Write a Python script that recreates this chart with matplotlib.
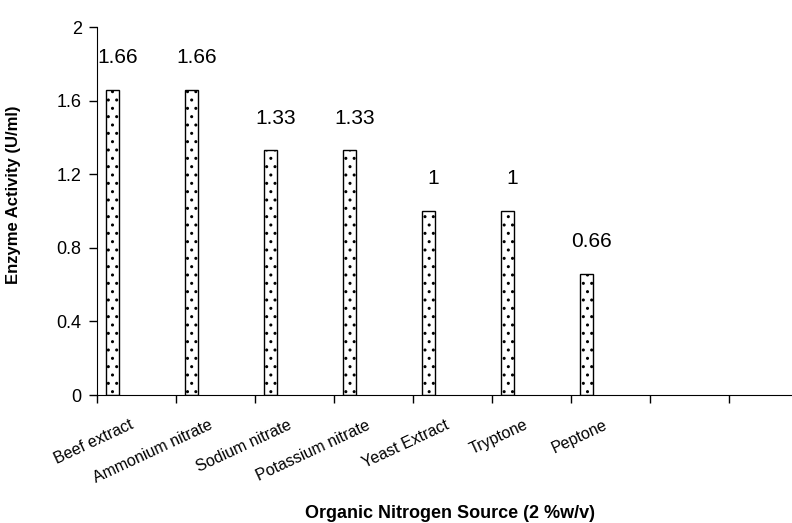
import matplotlib.pyplot as plt
import numpy as np

plt.rcParams["font.family"] = ["Liberation Sans", "DejaVu Sans"]
plt.rcParams["hatch.linewidth"] = 1.0

# data
aCategory = ['Beef extract', 'Ammonium nitrate', 'Sodium nitrate', 'Potassium nitrate',
             'Yeast Extract', 'Tryptone', 'Peptone']
aActivity = [1.66, 1.66, 1.33, 1.33, 1.0, 1.0, 0.66]
aLabel = ['1.66', '1.66', '1.33', '1.33', '1', '1', '0.66']
nSlot = 9
aYtick = [0, 0.4, 0.8, 1.2, 1.6, 2.0]
aYtick_label = ['0', '0.4', '0.8', '1.2', '1.6', '2']

fig = plt.figure(figsize=(7.92, 5.23), dpi=100)
# plot area runs past the right edge of the picture, as in the reference
ax = fig.add_axes([97/792, 128/523, 711/792, 368/523])

x = np.arange(len(aCategory))
ax.bar(x + 0.2, aActivity, width=0.16, color='white', edgecolor='black',
       linewidth=1.0, hatch='..')

for i in range(len(aCategory)):
    ax.text(x[i] + 0.26, aActivity[i] + 0.175, aLabel[i], ha='center', va='center', fontsize=15)

ax.set_xlim(0, nSlot)
ax.set_ylim(0, 2)
ax.set_yticks(aYtick)
ax.set_yticklabels(aYtick_label, fontsize=13)
ax.set_xticks(np.arange(nSlot + 1))
ax.set_xticklabels([])
ax.tick_params(axis='both', direction='out', length=6, width=1)
ax.tick_params(axis='y', pad=5)
ax.set_xticks(x + 0.45, minor=True)
ax.set_xticklabels(aCategory, minor=True, rotation=25, ha='right', va='center',
                   rotation_mode='anchor', fontsize=11.5)
ax.tick_params(axis='x', which='minor', length=0, pad=21)

for s in ['top', 'right']:
    ax.spines[s].set_visible(False)

ax.set_ylabel('Enzyme Activity (U/ml)', fontsize=12, fontweight='bold')
ax.yaxis.set_label_coords(-0.107, 0.543)
# title centred on the (partly hidden) plot area
fig.text(450/792, 9/523, 'Organic Nitrogen Source (2 %w/v)', ha='center', va='center',
         fontsize=13, fontweight='bold')

plt.savefig('out.png', dpi=100)
